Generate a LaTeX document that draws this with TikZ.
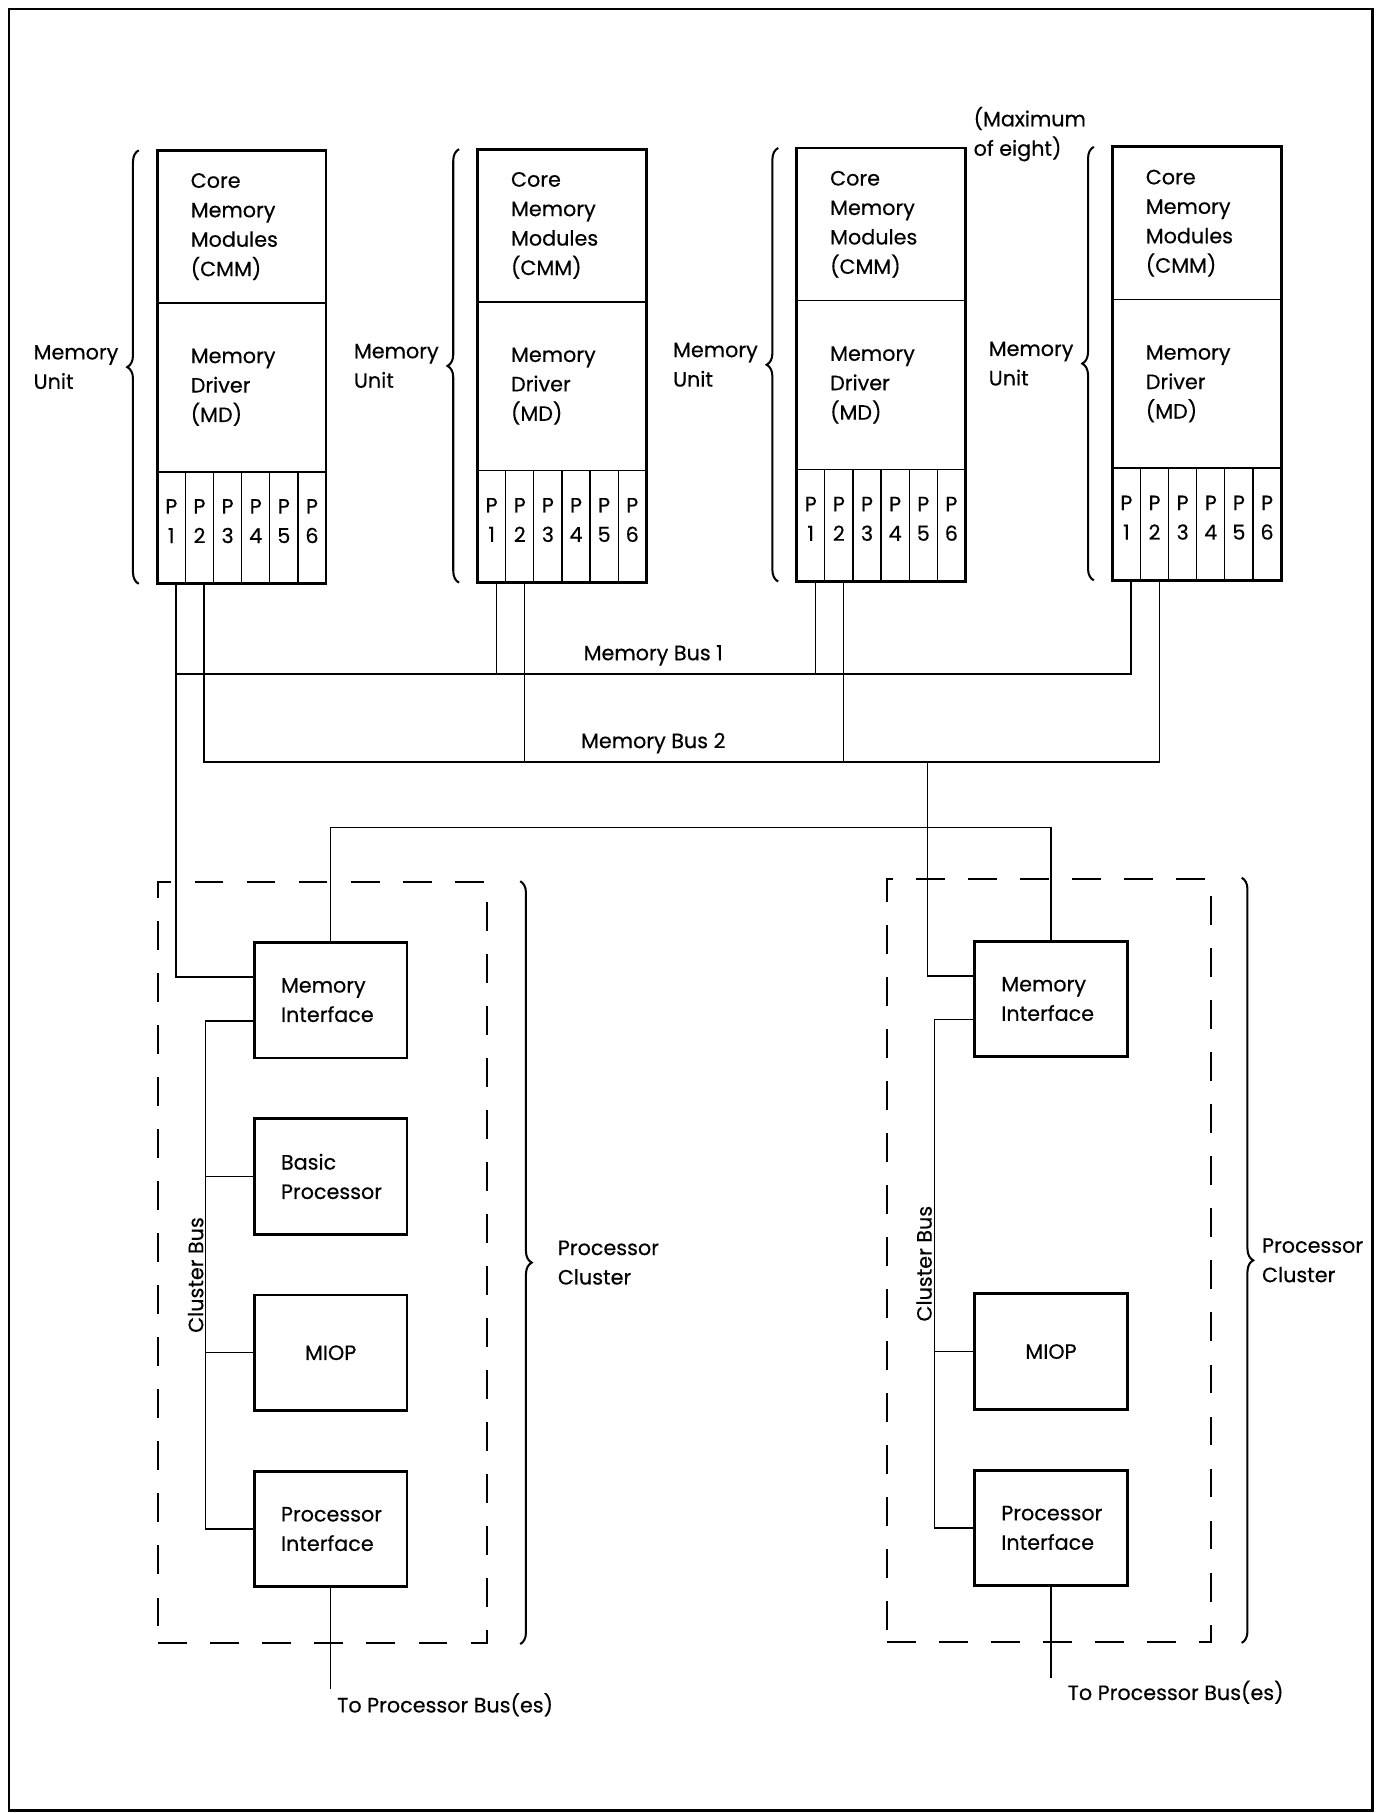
\documentclass[tikz,border=0pt]{standalone}
\usepackage{fontspec}
\setmainfont{Poppins}[FakeBold=0.4]
\usetikzlibrary{positioning,fit,calc,decorations.pathreplacing}

\begin{document}
\begin{tikzpicture}[
    x=0.02cm, y=-0.02cm,
    font=\fontsize{10.2}{14.5}\selectfont,
    node distance=1.05cm,
    cmm/.style={rectangle, draw, line width=0.8pt, outer sep=0pt, text width=1.76cm,
                inner xsep=0.58cm, align=left, minimum height=2.64cm},
    md/.style={cmm, minimum height=2.92cm},
    port/.style={rectangle, draw, line width=0.6pt, outer sep=0pt, inner sep=0pt,
                 minimum width=0.4867cm, minimum height=1.94cm, align=center},
    outer/.style={line width=1.4pt},
    unit/.style={rectangle, draw, line width=1.4pt, outer sep=0pt, text width=1.72cm,
                 inner xsep=0.46cm, align=left, minimum height=2cm},
    cluster/.style={draw, line width=1pt, dash pattern=on 0.5cm off 0.4cm, inner sep=0pt},
    brc/.style={decorate, decoration={brace, amplitude=0.2cm}, line width=1pt},
    lbl/.style={align=left, inner sep=1pt},
    wire/.style={line width=0.6pt}]
\useasboundingbox (0,0) rectangle (1193,1568);
\draw[line width=1.2pt] (8,8) rectangle (1187,1566);

\foreach \i/\x/\y in {1/136/130, 2/413/129, 3/689/128, 4/962/127} {
  \node[cmm, anchor=north west] (cmm\i) at (\x,\y) {Core\\Memory\\Modules\\(CMM)};
  \node[md, below=0pt of cmm\i] (md\i) {Memory\\Driver\\(MD)};
  \node[port, below right=0pt and 0pt of md\i.south west] (p\i-1) {P\\1\\[-8pt]};
  \foreach \j [evaluate=\j as \k using int(\j-1)] in {2,...,6}
    \node[port, right=0pt of p\i-\k] (p\i-\j) {P\\\j\\[-8pt]};
  \draw[outer] (cmm\i.north west) rectangle (p\i-6.south east);
  \draw[brc] ([xshift=-0.32cm]p\i-1.south west) -- ([xshift=-0.32cm]cmm\i.north west)
    node[midway, left=0.3cm, lbl] (mu\i) {Memory\\Unit};
  \coordinate (t\i-1) at ([xshift=0.08cm]p\i-1.south);
  \coordinate (t\i-2) at ([xshift=0.08cm]p\i-2.south);
}
\node[lbl, anchor=west] (maxnote) at ([xshift=0.1cm, yshift=0.24cm]cmm3.north east) {(Maximum\\of eight)};

\node[unit] (mi1) at (286,865) {Memory\\Interface};
\node[unit, below=of mi1] (bp1) {Basic\\Processor};
\node[unit, below=of bp1, align=center] (miop1) {MIOP};
\node[unit, below=of miop1] (pi1) {Processor\\Interface};

\node[unit] (mi2) at (909,864) {Memory\\Interface};
\node[unit, below=4.1cm of mi2, align=center] (miop2) {MIOP};
\node[unit, below=of miop2] (pi2) {Processor\\Interface};

\node[cluster, fit={(137,763) (421,1421)}] (cl1) {};
\node[cluster, fit={(767,760) (1047,1420)}] (cl2) {};
\draw[brc] ([xshift=0.56cm]cl1.north east) -- ([xshift=0.56cm]cl1.south east)
  node[midway, right=0.6cm, lbl] (pc1) {Processor\\Cluster};
\draw[brc] ([xshift=0.52cm]cl2.north east) -- ([xshift=0.52cm]cl2.south east)
  node[midway, right=0.3cm, lbl] (pc2) {Processor\\Cluster};

\coordinate (bus1) at (565,583);
\coordinate (bus2) at (565,659);
\coordinate (xbar) at (600,716);
\coordinate (mi1in) at ($(mi1.north west)!0.3!(mi1.south west)$);
\coordinate (mi1out) at ($(mi1.north west)!0.68!(mi1.south west)$);
\coordinate (mi2in) at ($(mi2.north west)!0.3!(mi2.south west)$);
\coordinate (mi2out) at ($(mi2.north west)!0.68!(mi2.south west)$);
\node[lbl, above=3pt of bus1] (bus1lbl) {Memory Bus 1};
\node[lbl, above=3pt of bus2] (bus2lbl) {Memory Bus 2};

\draw[wire] (t4-1) |- (t1-1 |- bus1);
\draw[wire] (t1-1) |- (mi1in);
\draw[wire] (t2-1) -- (t2-1 |- bus1);
\draw[wire] (t3-1) -- (t3-1 |- bus1);
\draw[wire] (t1-2) |- (t4-2 |- bus2) -- (t4-2);
\draw[wire] (t2-2) -- (t2-2 |- bus2);
\draw[wire] (t3-2) -- (t3-2 |- bus2);
\draw[wire] (mi2in) -| ($(mi2in |- bus2)+(-41,0)$);
\draw[wire] (mi1.north) |- (xbar) -| (mi2.north);

\coordinate (cb1) at ($(mi1out)+(-42,0)$);
\draw[wire] (mi1out) -- (cb1) |- (pi1.west);
\draw[wire] (bp1.west) -- (bp1.west -| cb1);
\draw[wire] (miop1.west) -- (miop1.west -| cb1);
\node[lbl, rotate=90, anchor=south] (cbus1) at ($(cb1)!0.5!(cb1 |- pi1.west)$) {Cluster Bus};

\coordinate (cb2) at ($(mi2out)+(-35,0)$);
\draw[wire] (mi2out) -- (cb2) |- (pi2.west);
\draw[wire] (miop2.west) -- (miop2.west -| cb2);
\node[lbl, rotate=90, anchor=south] (cbus2) at ($(cb2)!0.48!(cb2 |- pi2.west)$) {Cluster Bus};

\draw[wire] (pi1.south) -- ++(0,88) coordinate (out1);
\node[lbl, below right=1pt and 2pt of out1] (tpb1) {To Processor Bus(es)};
\draw[wire] (pi2.south) -- ++(0,80) coordinate (out2);
\node[lbl, below right=0pt and 7pt of out2] (tpb2) {To Processor Bus(es)};
\end{tikzpicture}
\end{document}
